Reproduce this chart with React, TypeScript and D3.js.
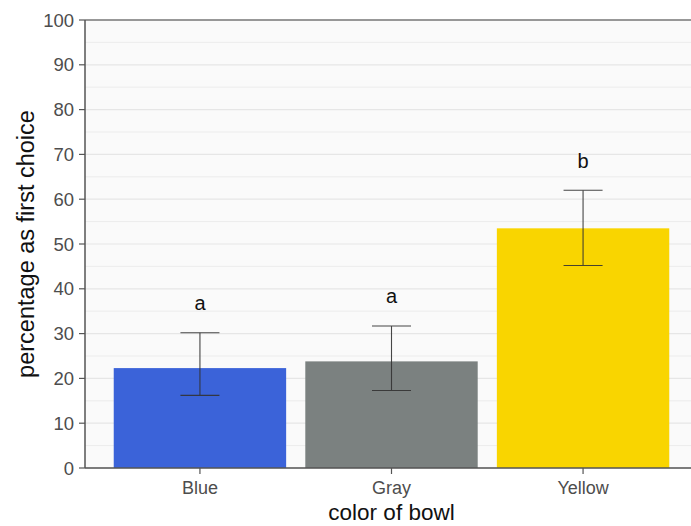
import React from "react";
import * as d3 from "d3";

const categories = ["Blue", "Gray", "Yellow"];
const means = [22.3, 23.8, 53.5];
const lower = [16.2, 17.3, 45.2];
const upper = [30.2, 31.7, 62.0];
const letters = ["a", "a", "b"];
const colors = ["#3B63D9", "#7B8180", "#F9D500"];
const yTicks = [0, 10, 20, 30, 40, 50, 60, 70, 80, 90, 100];
const yMinor = [5, 15, 25, 35, 45, 55, 65, 75, 85, 95];

const W = 691;
const H = 526;
const left = 85;
const right = 698;
const top = 20;
const bottom = 468;

export default function App() {
  const x = d3
    .scaleBand<string>()
    .domain(categories)
    .range([left, right])
    .paddingInner(0.1)
    .paddingOuter(0.15);
  const y = d3.scaleLinear().domain([0, 100]).range([bottom, top]);
  const font = "Liberation Sans, Arial, sans-serif";
  const capHalf = 19.5;
  return (
    <svg width={W} height={H} style={{ position: "absolute", left: 0, top: 0, background: "#fff" }}>
      <rect x={left} y={top} width={right - left} height={bottom - top} fill="#fafafa" />
      {yMinor.map((t) => (
        <line key={"m" + t} x1={left} x2={right} y1={y(t)} y2={y(t)} stroke="#ececec" strokeWidth={1} />
      ))}
      {yTicks.map((t) => (
        <line key={"g" + t} x1={left} x2={right} y1={y(t)} y2={y(t)} stroke="#e6e6e6" strokeWidth={1.2} />
      ))}
      {categories.map((c, i) => (
        <rect
          key={c}
          x={x(c)!}
          y={y(means[i])}
          width={x.bandwidth()}
          height={y(0) - y(means[i])}
          fill={colors[i]}
        />
      ))}
      {categories.map((c, i) => {
        const cx = x(c)! + x.bandwidth() / 2;
        return (
          <g key={"e" + c} stroke="#333" strokeWidth={1.1} opacity={0.9}>
            <line x1={cx} x2={cx} y1={y(upper[i])} y2={y(lower[i])} />
            <line x1={cx - capHalf} x2={cx + capHalf} y1={y(upper[i])} y2={y(upper[i])} />
            <line x1={cx - capHalf} x2={cx + capHalf} y1={y(lower[i])} y2={y(lower[i])} />
          </g>
        );
      })}
      {categories.map((c, i) => (
        <text
          key={"l" + c}
          x={x(c)! + x.bandwidth() / 2}
          y={y(upper[i] + 6.6)}
          dy="0.35em"
          textAnchor="middle"
          fontFamily={font}
          fontSize={20}
          fill="#111"
        >
          {letters[i]}
        </text>
      ))}
      {/* frame */}
      <line x1={left} x2={right} y1={top} y2={top} stroke="#7a7a7a" strokeWidth={1.6} />
      <line x1={left} x2={left} y1={top} y2={bottom} stroke="#555" strokeWidth={1.5} />
      <line x1={left} x2={right} y1={bottom} y2={bottom} stroke="#555" strokeWidth={1.5} />
      {yTicks.map((t) => (
        <g key={"t" + t}>
          <line x1={left - 6} x2={left} y1={y(t)} y2={y(t)} stroke="#555" strokeWidth={1.2} />
          <text
            x={left - 11}
            y={y(t)}
            dy="0.36em"
            textAnchor="end"
            fontFamily={font}
            fontSize={18.5}
            fill="#4d4d4d"
          >
            {t}
          </text>
        </g>
      ))}
      {categories.map((c) => {
        const cx = x(c)! + x.bandwidth() / 2;
        return (
          <g key={"x" + c}>
            <line x1={cx} x2={cx} y1={bottom} y2={bottom + 6} stroke="#555" strokeWidth={1.2} />
            <text
              x={cx}
              y={494}
              textAnchor="middle"
              fontFamily={font}
              fontSize={18}
              fill="#4d4d4d"
            >
              {c}
            </text>
          </g>
        );
      })}
      <text
        x={(left + right) / 2}
        y={520}
        textAnchor="middle"
        fontFamily={font}
        fontSize={22.5}
        fill="#111"
      >
        color of bowl
      </text>
      <text
        transform={`translate(26,${(top + bottom) / 2}) rotate(-90)`}
        textAnchor="middle"
        dy="0.35em"
        fontFamily={font}
        fontSize={23.5}
        fill="#111"
      >
        percentage as first choice
      </text>
    </svg>
  );
}
